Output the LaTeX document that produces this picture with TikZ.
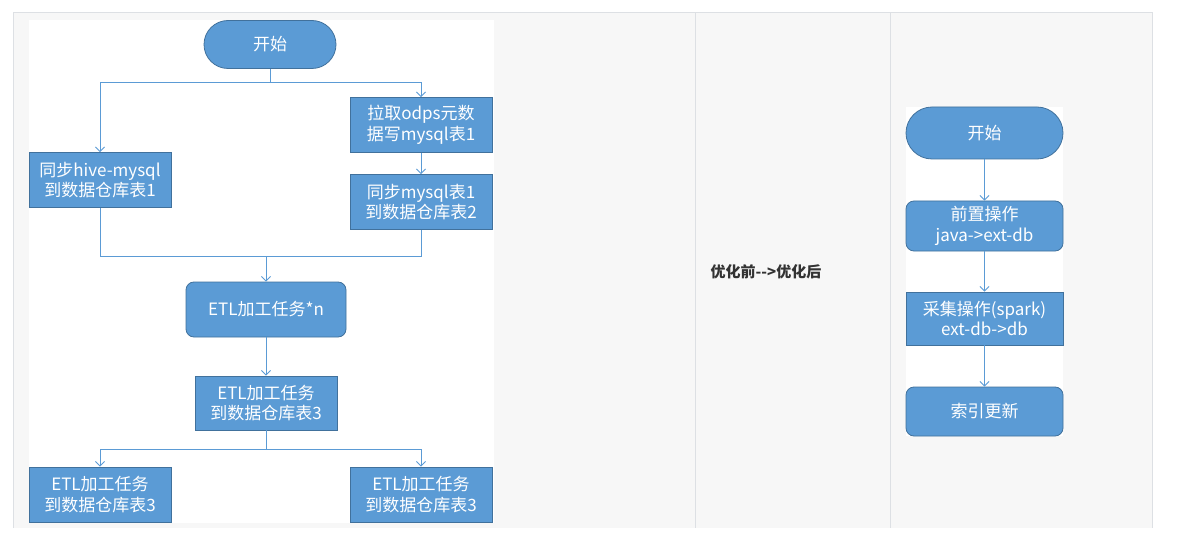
\documentclass[tikz,border=0pt]{standalone}
\usepackage{fontspec}
\setmainfont{Noto Sans CJK SC}
\usetikzlibrary{arrows.meta}
\definecolor{nodefill}{HTML}{5B9BD5}
\definecolor{nodeline}{HTML}{41719C}
\definecolor{connline}{HTML}{5B9BD5}
\definecolor{pagebg}{HTML}{F7F7F7}
\definecolor{tabline}{HTML}{DDE0E4}
\definecolor{labeltext}{HTML}{333333}
\tikzset{
  box/.style={draw=nodeline, line width=0.8pt, fill=nodefill, text=white,
    align=center, inner sep=0pt, font=\fontsize{17}{20.5}\selectfont},
  pill/.style={box, rounded corners=24pt},
  rbox/.style={box, rounded corners=8pt},
  conn/.style={draw=connline, line width=1pt},
  arr/.style={conn, -{Straight Barb[length=4.5pt,width=9pt,line width=0.9pt]}},
}
\begin{document}
\begin{tikzpicture}[x=1pt,y=-1pt]
\useasboundingbox (0,0) rectangle (1182,545);
% table background and lines
\fill[pagebg] (13,13) rectangle (1152,528);
\draw[tabline, line width=1pt] (13,528) -- (13,13) -- (1152,13) -- (1152,528);
\draw[tabline, line width=1pt] (695,13) -- (695,528);
\draw[tabline, line width=1pt] (890,13) -- (890,528);
% white canvases
\fill[white] (29,20) rectangle (494,523);
\fill[white] (906,107) rectangle (1063,436);

% left diagram
\node[pill, minimum width=132pt, minimum height=48pt] (start) at (270,44.5) {开始};
\node[box, minimum width=142pt, minimum height=55pt] (hive) at (100,180) {同步hive-mysql\\到数据仓库表1};
\node[box, minimum width=142pt, minimum height=55pt] (odps) at (421,125) {拉取odps元数\\据写mysql表1};
\node[box, minimum width=142pt, minimum height=55pt] (sync) at (421,202) {同步mysql表1\\到数据仓库表2};
\node[rbox, minimum width=160pt, minimum height=55pt] (etln) at (266,309.5) {ETL加工任务*n};
\node[box, minimum width=142pt, minimum height=54pt] (etl3) at (266,403) {ETL加工任务\\到数据仓库表3};
\node[box, minimum width=142pt, minimum height=55pt] (bl) at (100,494.5) {ETL加工任务\\到数据仓库表3};
\node[box, minimum width=142pt, minimum height=55pt] (br) at (421,494.5) {ETL加工任务\\到数据仓库表3};

\coordinate (split1) at (270,83);
\coordinate (merge) at (266,256);
\coordinate (split2) at (266,449);

\draw[conn] (start.south) -- (split1);
\draw[arr] (split1) -| (hive.north);
\draw[arr] (split1) -| (odps.north);
\draw[arr] (odps.south) -- (sync.north);
\draw[conn] (hive.south) |- (merge);
\draw[conn] (sync.south) |- (merge);
\draw[arr] (merge) -- (etln.north);
\draw[arr] (etln.south) -- (etl3.north);
\draw[conn] (etl3.south) -- (split2);
\draw[arr] (split2) -| (bl.north);
\draw[arr] (split2) -| (br.north);

% middle label
\node[text=labeltext, font=\fontsize{15}{18}\selectfont\bfseries] (lbl) at (766,271.5) {优化前{-}{-}>优化后};

% right diagram
\node[pill, rounded corners=26pt, minimum width=157pt, minimum height=52pt] (rstart) at (984.5,133) {开始};
\node[rbox, minimum width=157pt, minimum height=50pt] (pre) at (984.5,226) {前置操作\\java->ext-db};
\node[box, minimum width=157pt, minimum height=53pt] (col) at (984.5,318.5) {采集操作(spark)\\ext-db->db};
\node[rbox, minimum width=157pt, minimum height=49pt] (idx) at (984.5,411.5) {索引更新};

\draw[arr] (rstart.south) -- (pre.north);
\draw[arr] (pre.south) -- (col.north);
\draw[arr] (col.south) -- (idx.north);
\end{tikzpicture}
\end{document}
